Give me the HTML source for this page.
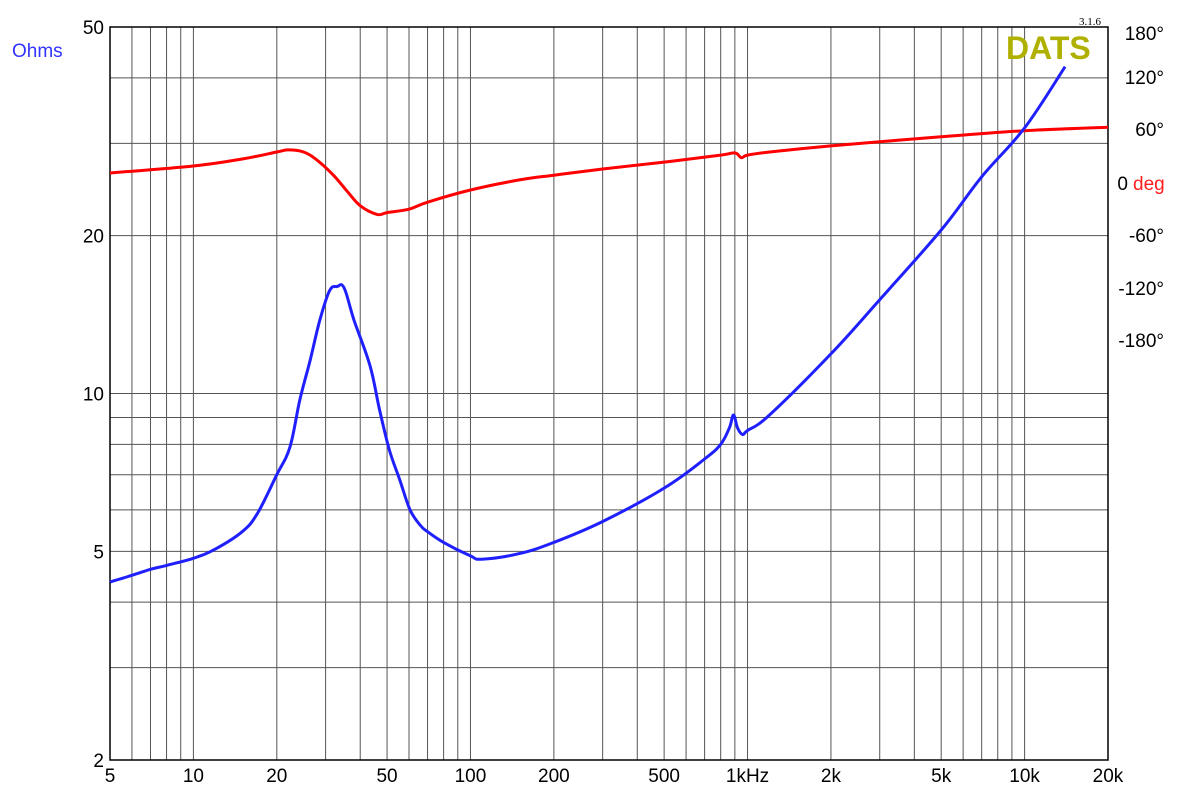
<!DOCTYPE html>
<html><head><meta charset="utf-8"><style>
body{margin:0;background:#fff;}
svg{display:block;font-family:"Liberation Sans",sans-serif;}
</style></head><body>
<svg id="chart" width="1179" height="795" viewBox="0 0 1179 795" xmlns="http://www.w3.org/2000/svg">
<rect x="0" y="0" width="1179" height="795" fill="#fff"/>
<g id="grid"></g>
<g id="labels"></g>
<g id="series"></g>
<text x="12" y="57" font-size="19" fill="#3333ff">Ohms</text>
<text x="1006" y="59" font-size="32" font-weight="bold" fill="#b0b000">DATS</text>
<text x="1079" y="25" font-size="11" fill="#000" font-family="Liberation Serif, serif">3.1.6</text>
</svg>
<script>
const freqTicks=[5,10,20,50,100,200,500,1000,2000,5000,10000,20000];
const freqTickLabels=["5","10","20","50","100","200","500","1kHz","2k","5k","10k","20k"];
const ohmTicks=[50,20,10,5,2];
const ohmTickLabels=["50","20","10","5","2"];
const phaseTicks=[180,120,60,0,-60,-120,-180];
const phaseTickLabels=["180°","120°","60°","0","-60°","-120°","-180°"];
const impFreq=[5,6,7,8,10,12,15,17,20,22.3,24.2,26.3,28.6,31,33,35,38,43.4,47,51,55.6,60.5,66,70,80,100,110,150,200,300,500,700,800,860,890,920,960,1000,1200,2000,3000,5000,7000,10000,14000];
const impOhms=[4.37,4.5,4.62,4.7,4.85,5.05,5.45,5.9,7.0,7.9,9.7,11.5,13.8,15.7,16.0,15.9,13.8,11.3,9.3,7.8,6.84,6.0,5.6,5.45,5.2,4.9,4.83,4.95,5.2,5.7,6.6,7.5,8.0,8.6,9.1,8.6,8.35,8.5,9.1,11.9,15.1,20.5,25.9,32.1,42];
const phFreq=[5,10,15,20,22,25,28,32,36,40,46,50,60,70,100,150,200,300,500,800,900,950,1000,1200,2000,5000,10000,20000];
const phDeg=[11.5,19.5,27.5,35.5,38,35.5,26,9,-10,-26,-36,-34,-30,-22,-8,3.5,9,16,24,32,34.5,29,32,35.5,42.5,53,60,64];

const X0=110,X1=1108,Y0=27,Y1=760;
const xs=f=>X0+(Math.log10(f)-Math.log10(5))/(Math.log10(20000)-Math.log10(5))*(X1-X0);
const ys=o=>Y0+(Math.log10(50)-Math.log10(o))/(Math.log10(50)-Math.log10(2))*(Y1-Y0);
const yp=d=>183-d*0.872;
const NS="http://www.w3.org/2000/svg";
function mk(tag,attrs,parent){const e=document.createElementNS(NS,tag);for(const k in attrs)e.setAttribute(k,attrs[k]);parent.appendChild(e);return e;}
const grid=document.getElementById('grid'),labels=document.getElementById('labels'),series=document.getElementById('series');
for(let dec=1;dec<=10000;dec*=10){for(let m=1;m<10;m++){const f=dec*m;if(f<5||f>20000)continue;
const l=mk('line',{x1:xs(f),x2:xs(f),y1:Y0,y2:Y1,stroke:'#555','stroke-width':1},grid);

}}
[50,40,30,20,10,9,8,7,6,5,4,3,2].forEach(o=>{
const l=mk('line',{x1:X0,x2:X1,y1:ys(o),y2:ys(o),stroke:'#555','stroke-width':1},grid);

});
const fr=mk('rect',{x:X0,y:Y0,width:X1-X0,height:Y1-Y0,fill:'none',stroke:'#000','stroke-width':1.5},grid);


freqTicks.forEach((f,i)=>{const t=mk('text',{x:xs(f),y:782,'text-anchor':'middle','font-size':19,fill:'#000'},labels);t.textContent=freqTickLabels[i];

});
ohmTicks.forEach((o,i)=>{const t=mk('text',{x:104,y:ys(o)+7,'text-anchor':'end','font-size':19,fill:'#000'},labels);t.textContent=ohmTickLabels[i];

});
const phaseLabelY=[33,77,129,183,235,288,340];
phaseTicks.forEach((d,i)=>{const t=mk('text',{x:1164,y:phaseLabelY[i]+7,'text-anchor':'end','font-size':19,fill:'#000'},labels);t.textContent=phaseTickLabels[i];
if(d===0){t.setAttribute('x',1128);}

});
const dg=mk('text',{x:1133,y:190,'font-size':19,fill:'#ff2020'},labels);dg.textContent='deg';


function smoothPath(fa,va,fy){
  const p=fa.map((f,i)=>[xs(f),fy(va[i])]);
  let d='M'+p[0][0].toFixed(1)+','+p[0][1].toFixed(1);
  for(let i=0;i<p.length-1;i++){
    const p0=p[Math.max(0,i-1)],p1=p[i],p2=p[i+1],p3=p[Math.min(p.length-1,i+2)];
    const t=0.18;
    const c1=[p1[0]+(p2[0]-p0[0])*t,p1[1]+(p2[1]-p0[1])*t];
    const c2=[p2[0]-(p3[0]-p1[0])*t,p2[1]-(p3[1]-p1[1])*t];
    d+=' C'+c1[0].toFixed(1)+','+c1[1].toFixed(1)+' '+c2[0].toFixed(1)+','+c2[1].toFixed(1)+' '+p2[0].toFixed(1)+','+p2[1].toFixed(1);
  }
  return d;
}
const ph=mk('path',{d:smoothPath(phFreq,phDeg,yp),fill:'none',stroke:'#ff0000','stroke-width':3,'stroke-linejoin':'round'},series);


const im=mk('path',{d:smoothPath(impFreq,impOhms,ys),fill:'none',stroke:'#2020ff','stroke-width':3,'stroke-linejoin':'round'},series);


</script>
</body></html>
